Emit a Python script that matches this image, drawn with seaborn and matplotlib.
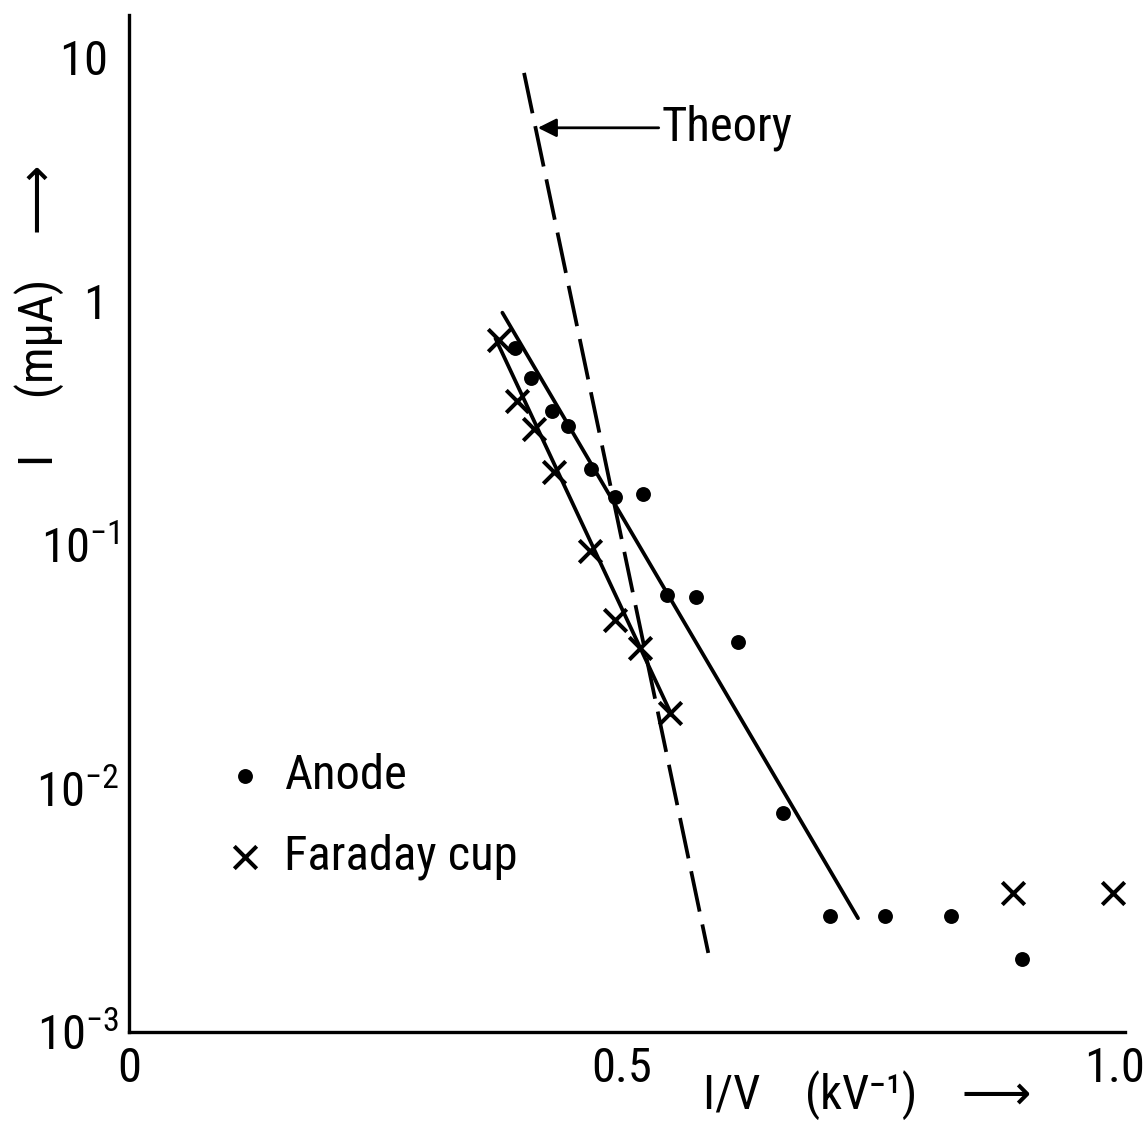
import matplotlib
matplotlib.use("Agg")
import matplotlib.pyplot as plt
import seaborn as sns
from matplotlib import font_manager

# ---------------- data ----------------
anode_x = [0.392, 0.408, 0.429, 0.446, 0.469, 0.493, 0.522, 0.546, 0.576, 0.618,
           0.664, 0.712, 0.767, 0.834, 0.906]
anode_y = [0.64, 0.48, 0.354, 0.305, 0.204, 0.156, 0.161, 0.0618, 0.0608, 0.0398,
           0.0079, 0.0030, 0.0030, 0.0030, 0.0020]

faraday_x = [0.376, 0.394, 0.411, 0.431, 0.468, 0.493, 0.519, 0.549, 0.897, 0.999]
faraday_y = [0.69, 0.389, 0.298, 0.198, 0.0944, 0.0489, 0.0375, 0.0203, 0.0037, 0.0037]

anode_fit_x = [0.379, 0.740]
anode_fit_y = [0.893, 0.00293]
faraday_fit_x = [0.372, 0.551]
faraday_fit_y = [0.70, 0.0199]
theory_x = [0.401, 0.588]
theory_y = [8.6, 0.00211]

x_ticks = [0, 0.5, 1.0]
x_tick_labels = ["0", "0.5", "1.0"]
y_ticks = [10, 1, 0.1, 0.01, 0.001]
y_tick_labels = ["10 ", "1 ", "$10^{-1}$", "$10^{-2}$", "$10^{-3}$"]

legend_labels = ["Anode", "Faraday cup"]
theory_label = "Theory"
theory_arrow_at = (0.415, 5.12)
theory_text_at = (0.541, 5.12)
x_label = "I/V    (kV⁻¹)    ⟶"
y_label = "I     (mμA)    ⟶"

# ---------------- style ----------------
sns.set_style("white")
fonts = font_manager.fontManager.ttflist
names = {f.name for f in fonts}
stretch = "normal"
main_font = None
for cand in ["Liberation Sans Narrow", "Roboto Condensed", "Open Sans Condensed",
             "Arial Narrow", "Nimbus Sans Narrow"]:
    if cand in names:
        main_font = cand
        break
if main_font is None:
    if any(f.name == "DejaVu Sans" and str(f.stretch) in ("condensed", "semi-condensed")
           for f in fonts):
        main_font = "DejaVu Sans"
        stretch = "condensed"
    else:
        main_font = "Roboto" if "Roboto" in names else "Liberation Sans"

plt.rcParams["font.family"] = [main_font, "DejaVu Sans"]
plt.rcParams["font.stretch"] = stretch
plt.rcParams["mathtext.fontset"] = "custom"
plt.rcParams["mathtext.rm"] = main_font
plt.rcParams["mathtext.it"] = main_font
plt.rcParams["mathtext.bf"] = main_font
plt.rcParams["mathtext.sf"] = main_font
for k in ["text.color", "axes.labelcolor", "xtick.color", "ytick.color", "axes.edgecolor"]:
    plt.rcParams[k] = "black"
FS = 35

fig = plt.figure(figsize=(11.46, 11.32), dpi=100)
ax = fig.add_axes([129 / 1146, 1 - 1032 / 1132, (1125 - 129) / 1146, (1032 - 15) / 1132])
ax.set_yscale("log")

LW = 2.7
sns.lineplot(x=theory_x, y=theory_y, ax=ax, color="black", lw=LW,
             linestyle=(0, (11, 3.5)), sort=False)
sns.lineplot(x=anode_fit_x, y=anode_fit_y, ax=ax, color="black", lw=LW, sort=False)
sns.lineplot(x=faraday_fit_x, y=faraday_fit_y, ax=ax, color="black", lw=LW, sort=False)

sns.scatterplot(x=anode_x, y=anode_y, ax=ax, color="black", marker="o", s=115,
                edgecolor="black", linewidth=0, label=legend_labels[0], zorder=3)
sns.scatterplot(x=faraday_x, y=faraday_y, ax=ax, color="black", marker="x", s=260,
                linewidth=2.9, label=legend_labels[1], zorder=3)

ax.set_xlim(0, 1.011)
ax.set_ylim(1e-3, 14.86)

ax.set_xticks(x_ticks)
ax.set_xticklabels(x_tick_labels, fontsize=FS)
ax.set_yticks(y_ticks)
ax.set_yticklabels(y_tick_labels, fontsize=FS)
ax.minorticks_off()
ax.tick_params(axis="both", direction="in", length=17, width=2.4, color="black")
ax.tick_params(axis="x", pad=10)
ax.tick_params(axis="y", pad=7)

for side in ["top", "right"]:
    ax.spines[side].set_visible(False)
for side in ["left", "bottom"]:
    ax.spines[side].set_linewidth(2.4)
    ax.spines[side].set_color("black")

ax.set_xlabel(x_label, fontsize=FS)
ax.xaxis.set_label_coords((867 - 129) / 996, -(1070 - 1032) / 1017)
ax.set_ylabel(y_label, fontsize=FS)
ax.yaxis.set_label_coords(-(129 - 64) / 996, (1032 - 315) / 1017)

ax.annotate(theory_label, xy=theory_arrow_at, xytext=theory_text_at,
            fontsize=FS, ha="left", va="center",
            arrowprops=dict(arrowstyle="-|>", color="black", lw=2.0,
                            mutation_scale=28, shrinkA=0, shrinkB=0))

ax.legend(loc="upper left", bbox_to_anchor=(226 / 1146, 1 - 753 / 1132),
          bbox_transform=fig.transFigure, frameon=False, fontsize=FS,
          handlelength=0.8, handletextpad=0.4, labelspacing=0.72,
          borderpad=0, borderaxespad=0)

fig.savefig("out.png", dpi=100)
